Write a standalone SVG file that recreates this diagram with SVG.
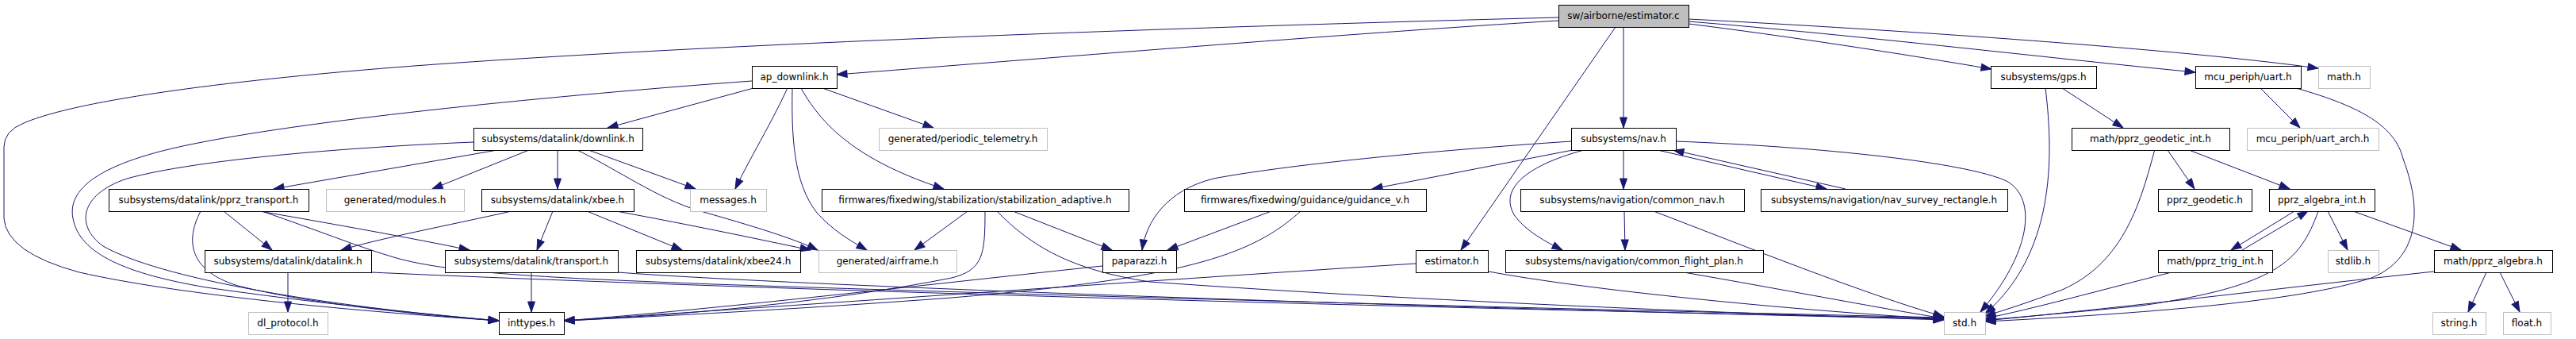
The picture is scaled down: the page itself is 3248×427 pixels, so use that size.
<svg xmlns="http://www.w3.org/2000/svg" width="3248" height="427" viewBox="0 0 3248 427">
<style>
.n rect{fill:#fff;stroke:#000;stroke-width:1}
.g rect{fill:#fff;stroke:#bfbfbf;stroke-width:1}
.r rect{fill:#bfbfbf;stroke:#000;stroke-width:1}
text{font-family:"DejaVu Sans",sans-serif;font-size:12px;text-anchor:middle;fill:#000}
#edges path{fill:none;stroke:#191970;stroke-width:1;marker-end:url(#a)}
</style>
<defs>
<marker id="a" markerWidth="13" markerHeight="10" refX="13" refY="5" orient="auto" markerUnits="userSpaceOnUse" style="overflow:visible"><path d="M0,0.5 L13,5 L0,9.5 z" fill="#191970" stroke="#191970" stroke-width="1"/></marker>
</defs>
<rect width="3248" height="427" fill="#fff"/>
<g id="edges">
<path d="M1965,22 C1500,34 900,55 522,83 C300,100 100,125 30,155 Q5,165 5,185 L5,275 Q8,318 100,343 C220,370 420,390 629,404"/>
<path d="M1965,26 C1700,42 1300,75 1055,94"/>
<path d="M2047,34 L2047,161"/>
<path d="M2037,34 L1842,315"/>
<path d="M2129,30 C2250,45 2400,68 2511,87"/>
<path d="M2129,27 C2350,45 2600,75 2768,91"/>
<path d="M2129,24 C2400,38 2750,62 2923,86"/>
<path d="M950,111 L766,161"/>
<path d="M948,102 C700,120 400,150 250,180 C120,205 85,240 92,275 C100,320 160,345 260,362 C400,382 520,394 629,404"/>
<path d="M993,111 C970,160 945,200 927,238"/>
<path d="M999,111 C998,170 1000,230 1030,268 C1050,290 1070,302 1093,315"/>
<path d="M1037,111 L1177,161"/>
<path d="M1010,111 C1040,165 1090,205 1190,238"/>
<path d="M597,179 C450,185 250,200 160,225 C100,245 95,285 130,310 C200,350 400,385 629,404"/>
<path d="M627,189 L345,238"/>
<path d="M667,189 L545,238"/>
<path d="M703,189 L703,238"/>
<path d="M728,189 C780,215 830,250 880,265 C950,285 1000,300 1031,315"/>
<path d="M742,189 L877,238"/>
<path d="M253,266 C235,300 235,340 300,360 C400,385 550,398 629,404"/>
<path d="M282,266 L343,315"/>
<path d="M327,266 C420,282 520,300 592,315"/>
<path d="M333,267 C400,290 450,310 490,322 C560,345 700,350 900,358 C1500,378 2100,392 2451,400"/>
<path d="M468,343 C800,358 1500,382 2451,401"/>
<path d="M363,343 L363,393"/>
<path d="M645,266 C560,285 480,300 430,315"/>
<path d="M697,266 L677,315"/>
<path d="M740,266 L860,315"/>
<path d="M777,266 C880,285 950,300 1022,315"/>
<path d="M670,343 L670,393"/>
<path d="M779,343 C1000,360 1800,388 2451,402"/>
<path d="M1220,266 L1153,315"/>
<path d="M1242,266 C1242,320 1240,340 1200,350 C1050,380 850,398 711,404"/>
<path d="M1257,266 C1300,310 1350,340 1450,355 C1800,380 2200,395 2451,403"/>
<path d="M1277,266 L1402,315"/>
<path d="M1390,335 C1200,355 900,390 711,404"/>
<path d="M1640,266 C1580,320 1500,350 1200,375 C1000,390 800,400 711,404"/>
<path d="M1603,266 L1472,315"/>
<path d="M1981,178 C1800,190 1620,208 1530,225 C1470,240 1445,280 1440,315"/>
<path d="M1983,189 L1730,238"/>
<path d="M1997,189 C1920,210 1890,240 1910,272 C1925,292 1950,305 1970,315"/>
<path d="M2047,189 L2047,238"/>
<path d="M2090,189 L2303,238"/>
<path d="M2327,238 L2110,189"/>
<path d="M2113,178 C2300,185 2480,205 2530,228 C2570,250 2560,320 2497,393"/>
<path d="M2048,266 L2049,315"/>
<path d="M2085,266 C2200,310 2350,370 2451,399"/>
<path d="M2123,343 C2250,365 2380,390 2451,401"/>
<path d="M1785,332 C1500,350 1000,385 711,404"/>
<path d="M1877,342 C2000,365 2250,390 2451,402"/>
<path d="M2579,111 C2590,200 2590,320 2503,395"/>
<path d="M2600,111 L2677,161"/>
<path d="M2895,111 C2980,135 3020,160 3030,200 C3060,280 3040,330 2990,350 C2900,380 2700,395 2503,405"/>
<path d="M2850,111 L2900,161"/>
<path d="M2717,188 C2700,250 2680,330 2600,365 C2560,380 2530,390 2503,398"/>
<path d="M2733,189 L2767,238"/>
<path d="M2760,189 L2887,238"/>
<path d="M2893,266 L2813,315"/>
<path d="M2827,315 L2910,266"/>
<path d="M2935,266 L2960,315"/>
<path d="M2967,266 L3103,315"/>
<path d="M2923,266 C2900,330 2870,360 2700,385 C2600,395 2540,400 2503,403"/>
<path d="M2738,343 C2650,365 2560,390 2503,401"/>
<path d="M3069,342 C2900,360 2700,385 2503,404"/>
<path d="M3135,343 L3112,393"/>
<path d="M3152,343 L3177,393"/>
</g>
<g id="n_root" class="r"><rect x="1965.5" y="6.5" width="164" height="28"/><text x="2047" y="24">sw/airborne/estimator.c</text></g>
<g id="n_ap_downlink" class="n"><rect x="948.5" y="83.5" width="107" height="28"/><text x="1001.5" y="101">ap_downlink.h</text></g>
<g id="n_gps" class="n"><rect x="2510.5" y="83.5" width="133" height="28"/><text x="2576.5" y="101">subsystems/gps.h</text></g>
<g id="n_uart" class="n"><rect x="2768.5" y="83.5" width="133" height="28"/><text x="2834.5" y="101">mcu_periph/uart.h</text></g>
<g id="n_math" class="g"><rect x="2923.5" y="83.5" width="65" height="28"/><text x="2955.5" y="101">math.h</text></g>
<g id="n_downlink" class="n"><rect x="597.5" y="161.5" width="213" height="28"/><text x="703.5" y="179">subsystems/datalink/downlink.h</text></g>
<g id="n_periodic" class="g"><rect x="1108.5" y="161.5" width="212" height="28"/><text x="1214" y="179">generated/periodic_telemetry.h</text></g>
<g id="n_nav" class="n"><rect x="1981.5" y="161.5" width="132" height="28"/><text x="2047" y="179">subsystems/nav.h</text></g>
<g id="n_geodetic_int" class="n"><rect x="2612.5" y="161.5" width="199" height="28"/><text x="2711.5" y="179">math/pprz_geodetic_int.h</text></g>
<g id="n_uart_arch" class="g"><rect x="2833.5" y="161.5" width="166" height="28"/><text x="2916" y="179">mcu_periph/uart_arch.h</text></g>
<g id="n_pprz_transport" class="n"><rect x="137.5" y="238.5" width="252" height="28"/><text x="263" y="256">subsystems/datalink/pprz_transport.h</text></g>
<g id="n_modules" class="g"><rect x="411.5" y="238.5" width="174" height="28"/><text x="498" y="256">generated/modules.h</text></g>
<g id="n_xbee" class="n"><rect x="607.5" y="238.5" width="192" height="28"/><text x="703" y="256">subsystems/datalink/xbee.h</text></g>
<g id="n_messages" class="g"><rect x="870.5" y="238.5" width="96" height="28"/><text x="918" y="256">messages.h</text></g>
<g id="n_stab" class="n"><rect x="1036.5" y="238.5" width="387" height="28"/><text x="1229.5" y="256">firmwares/fixedwing/stabilization/stabilization_adaptive.h</text></g>
<g id="n_guidance" class="n"><rect x="1493.5" y="238.5" width="305" height="28"/><text x="1645.5" y="256">firmwares/fixedwing/guidance/guidance_v.h</text></g>
<g id="n_common_nav" class="n"><rect x="1917.5" y="238.5" width="282" height="28"/><text x="2058" y="256">subsystems/navigation/common_nav.h</text></g>
<g id="n_survey" class="n"><rect x="2220.5" y="238.5" width="311" height="28"/><text x="2375.5" y="256">subsystems/navigation/nav_survey_rectangle.h</text></g>
<g id="n_pprz_geodetic" class="n"><rect x="2721.5" y="238.5" width="118" height="28"/><text x="2780" y="256">pprz_geodetic.h</text></g>
<g id="n_algebra_int" class="n"><rect x="2861.5" y="238.5" width="133" height="28"/><text x="2927.5" y="256">pprz_algebra_int.h</text></g>
<g id="n_datalink" class="n"><rect x="258.5" y="315.5" width="210" height="28"/><text x="363" y="333">subsystems/datalink/datalink.h</text></g>
<g id="n_transport" class="n"><rect x="561.5" y="315.5" width="218" height="28"/><text x="670" y="333">subsystems/datalink/transport.h</text></g>
<g id="n_xbee24" class="n"><rect x="802.5" y="315.5" width="207" height="28"/><text x="905.5" y="333">subsystems/datalink/xbee24.h</text></g>
<g id="n_airframe" class="g"><rect x="1032.5" y="315.5" width="174" height="28"/><text x="1119" y="333">generated/airframe.h</text></g>
<g id="n_paparazzi" class="n"><rect x="1390.5" y="315.5" width="93" height="28"/><text x="1436.5" y="333">paparazzi.h</text></g>
<g id="n_estimator_h" class="n"><rect x="1785.5" y="315.5" width="91" height="28"/><text x="1830.5" y="333">estimator.h</text></g>
<g id="n_cfp" class="n"><rect x="1898.5" y="315.5" width="325" height="28"/><text x="2060.5" y="333">subsystems/navigation/common_flight_plan.h</text></g>
<g id="n_trig" class="n"><rect x="2721.5" y="315.5" width="144" height="28"/><text x="2793" y="333">math/pprz_trig_int.h</text></g>
<g id="n_stdlib" class="g"><rect x="2935.5" y="315.5" width="64" height="28"/><text x="2967" y="333">stdlib.h</text></g>
<g id="n_algebra" class="n"><rect x="3069.5" y="315.5" width="149" height="28"/><text x="3143.5" y="333">math/pprz_algebra.h</text></g>
<g id="n_dl_protocol" class="g"><rect x="313.5" y="393.5" width="100" height="28"/><text x="363" y="411">dl_protocol.h</text></g>
<g id="n_inttypes" class="n"><rect x="629.5" y="393.5" width="82" height="28"/><text x="670" y="411">inttypes.h</text></g>
<g id="n_std" class="g"><rect x="2451.5" y="393.5" width="52" height="28"/><text x="2477" y="411">std.h</text></g>
<g id="n_string" class="g"><rect x="3067.5" y="393.5" width="67" height="28"/><text x="3100.5" y="411">string.h</text></g>
<g id="n_float" class="g"><rect x="3156.5" y="393.5" width="60" height="28"/><text x="3186" y="411">float.h</text></g>
</svg>
